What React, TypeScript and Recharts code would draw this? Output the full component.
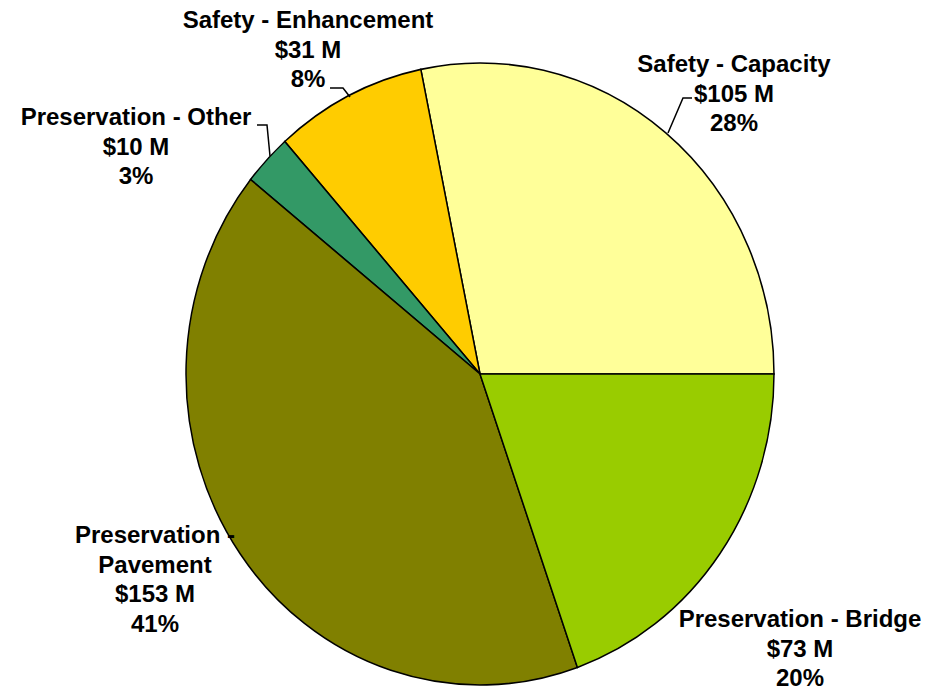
import React from 'react';
import { PieChart, Pie, Cell } from 'recharts';

const categories = [
  'Safety - Capacity',
  'Safety - Enhancement',
  'Preservation - Other',
  'Preservation - Pavement',
  'Preservation - Bridge',
];
const amounts = [105, 31, 10, 153, 73];
const colors = ['#FFFF99', '#FFCC00', '#339966', '#808000', '#99CC00'];

const total = amounts.reduce((a, b) => a + b, 0);
const data = categories.map((name, i) => ({ name, value: amounts[i] }));

const CX = 480;
const CY = 374;
const R = 294;
const Y_SCALE = 311 / 294;

// label layout: offsets from pie centre (text centre x, first baseline y), leader line points
const labelLayout = [
  { dx: 254, dy: -302, wrap: false, line: [[212, -276], [203, -276], [188, -241]] },
  { dx: -172, dy: -346, wrap: false, line: [[-150, -286], [-137, -286], [-130, -277]] },
  { dx: -344, dy: -249, wrap: false, line: [[-223, -249], [-213, -249], [-210, -218]] },
  { dx: -325, dy: 169, wrap: true, line: null },
  { dx: 320, dy: 253, wrap: false, line: null },
];

const LINE_H = 29.6;

const renderLabel = (props: any) => {
  const { index, cx, cy } = props;
  const lay = labelLayout[index];
  const name: string = categories[index];
  const pct = Math.round((amounts[index] / total) * 100);
  let lines: string[];
  if (lay.wrap) {
    const parts = name.split(' - ');
    lines = [parts[0] + ' -', parts[1]];
  } else {
    lines = [name];
  }
  lines = lines.concat([`$${amounts[index]} M`, `${pct}%`]);
  const x = cx + lay.dx;
  const y = cy + lay.dy;
  return (
    <text
      key={`lbl-${index}`}
      x={x}
      y={y}
      textAnchor="middle"
      fill="#000"
      style={{ fontFamily: '"Liberation Sans", Arial, sans-serif', fontWeight: 'bold', fontSize: 24 }}
    >
      {lines.map((l, k) => (
        <tspan key={k} x={x} y={y + k * LINE_H}>
          {l}
        </tspan>
      ))}
    </text>
  );
};

const renderLabelLine = (props: any) => {
  const { index, cx, cy } = props;
  const lay = labelLayout[index];
  if (!lay.line) return <g key={`ll-${index}`} />;
  const pts = lay.line.map(([px, py]) => `${cx + px},${cy + py}`).join(' ');
  return <polyline key={`ll-${index}`} points={pts} fill="none" stroke="#000" strokeWidth={1.5} />;
};

export default function App() {
  return (
    <div style={{ position: 'absolute', left: 0, top: 0, width: 947, height: 691, background: '#fff' }}>
      <style>{`.recharts-pie-sector path { transform-origin: ${CX}px ${CY}px; transform: scaleY(${Y_SCALE}); }`}</style>
      <PieChart width={947} height={691} margin={{ top: 0, right: 0, bottom: 0, left: 0 }}>
        <Pie
          data={data}
          dataKey="value"
          nameKey="name"
          cx={CX}
          cy={CY}
          outerRadius={R}
          startAngle={0}
          endAngle={360}
          stroke="#000"
          strokeWidth={1.5}
          label={renderLabel}
          labelLine={renderLabelLine}
          isAnimationActive={false}
        >
          {data.map((d, i) => (
            <Cell key={d.name} fill={colors[i]} />
          ))}
        </Pie>
      </PieChart>
    </div>
  );
}
